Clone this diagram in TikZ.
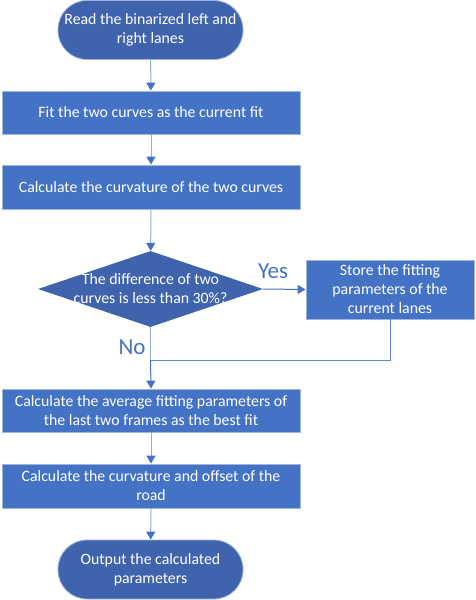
\documentclass[tikz,border=0pt]{standalone}
\usepackage{fontspec}
\setmainfont{Carlito}
\usetikzlibrary{shapes.geometric,arrows.meta}

\definecolor{boxblue}{HTML}{4472C4}
\definecolor{darkblue}{HTML}{3F63AD}
\definecolor{rimblue}{HTML}{9DB5E0}
\definecolor{lineblue}{HTML}{8FAADC}
\definecolor{tipblue}{HTML}{4472C4}

\tikzset{
  procbox/.style={rectangle, fill=boxblue, draw=rimblue, line width=0.8pt, text=white,
    align=center, inner sep=0pt, minimum width=298pt, font=\fontsize{15.8}{19}\selectfont},
  termbox/.style={rectangle, rounded corners=29pt, fill=darkblue, draw=rimblue, line width=0.8pt,
    text=white, align=center, inner sep=0pt, minimum width=185pt, minimum height=59pt,
    font=\fontsize{15.8}{19}\selectfont},
  decbox/.style={diamond, fill=darkblue, inner sep=0pt, minimum width=225pt, minimum height=76pt},
  flow/.style={draw=lineblue, line width=1pt, -{Triangle[length=8pt,width=9pt,color=tipblue]}},
  answer/.style={text=boxblue, font=\fontsize{23}{25}\selectfont}
}

\begin{document}
\begin{tikzpicture}[x=1pt,y=-1pt]
\useasboundingbox (0,0) rectangle (476,600);

\node[termbox] (read) at (150.5,30) {Read the binarized left and\\right lanes};
\node[procbox, minimum height=43pt] (fit) at (151,112.5) {Fit the two curves as the current fit};
\node[procbox, minimum height=44pt] (curv) at (151,187) {Calculate the curvature of the two curves};
\node[decbox] (diff) at (150.5,289) {};
\node[text=white, align=center, font=\fontsize{15.8}{19}\selectfont] (difftext) at (diff.center)
  {The difference of two\\curves is less than 30\%?};
\node[procbox, minimum width=168pt, minimum height=59pt] (store) at (390,289.5)
  {Store the fitting\\parameters of the\\current lanes};
\node[procbox, minimum height=43pt] (avg) at (151,410.5)
  {Calculate the average fitting parameters of\\the last two frames as the best fit};
\node[procbox, minimum height=44pt] (road) at (151,486)
  {Calculate the curvature and offset of the\\road};
\node[termbox] (outp) at (150.5,569.5) {Output the calculated\\parameters};

\coordinate (merge) at (150.5,360);

\node[answer] (yes) at (273,271) {Yes};
\node[answer] (no) at (132,347) {No};

\draw[flow] (read) -- (fit);
\draw[flow] (fit) -- (curv);
\draw[flow] (curv) -- (diff);
\draw[flow, draw=tipblue] (diff.east) -- (store.west);
\draw[draw=lineblue, line width=1pt] (diff.south) -- (merge);
\draw[draw=boxblue!85!white, line width=1pt] (store.south) |- (merge);
\draw[flow, draw=tipblue] (merge) -- (avg.north);
\draw[flow] (avg) -- (road);
\draw[flow] (road) -- (outp);

\end{tikzpicture}
\end{document}
